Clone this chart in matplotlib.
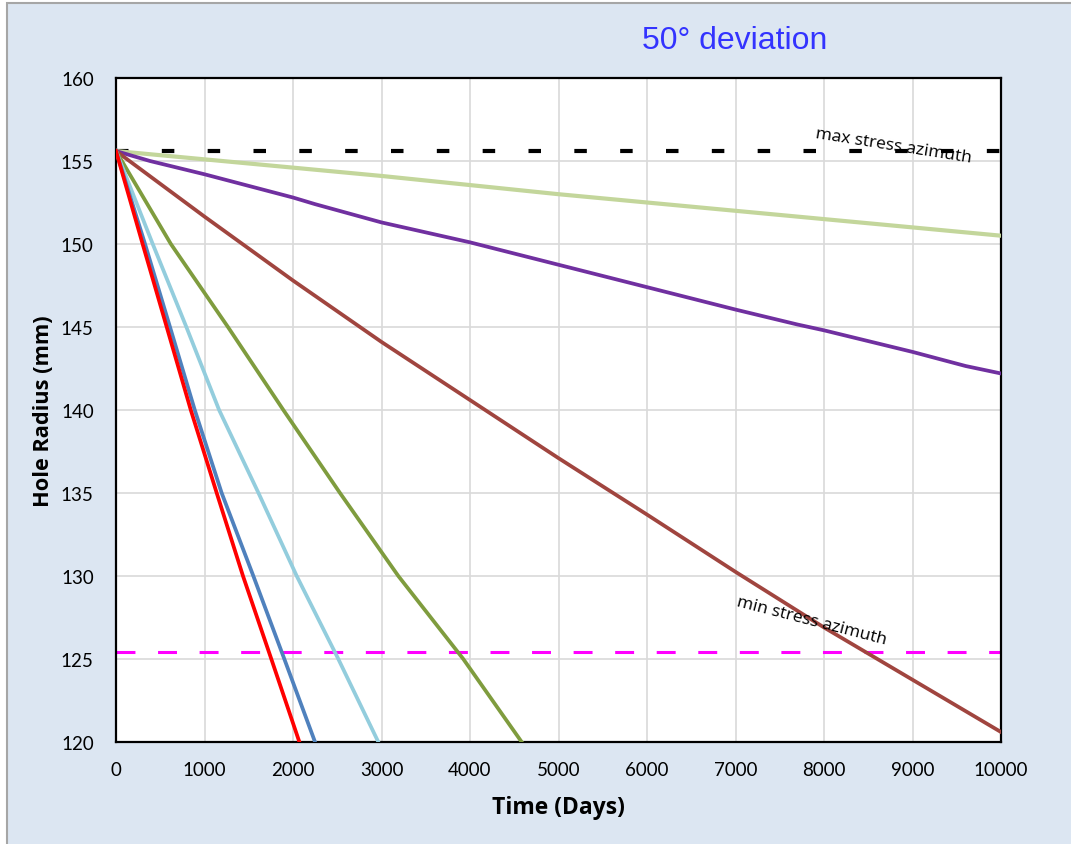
import matplotlib
matplotlib.use("Agg")
import matplotlib.pyplot as plt
from matplotlib.patches import Rectangle

# ---- data ----
red_t = [0, 301, 573, 845, 1138, 1435, 1755, 2072]
red_r = [155.6, 150, 145, 140, 135, 130, 125, 120]

blue_t = [0, 328, 610, 890, 1194, 1552, 1902, 2249]
blue_r = [155.6, 150, 145, 140, 135, 130, 125, 120]

lblue_t = [0, 415, 795, 1165, 1610, 2042, 2512, 2964]
lblue_r = [155.6, 150, 145, 140, 135, 130, 125, 120]

olive_t = [0, 620, 1265, 1891, 2531, 3190, 3924, 4584]
olive_r = [155.6, 150, 145, 140, 135, 130, 125, 120]

brown_t = [0, 1000, 2000, 3000, 4000, 5000, 6000, 7000, 8000, 9000, 10000]
brown_r = [155.6, 151.65, 147.8, 144.1, 140.6, 137.1, 133.7, 130.25, 126.9, 123.75, 120.6]

purple_t = [0, 384, 1000, 2000, 2250, 3000, 4000, 5000, 6000, 7000, 7700, 8000, 9000, 9600, 10000]
purple_r = [155.6, 155.0, 154.2, 152.8, 152.4, 151.3, 150.1, 148.75, 147.4, 146.05, 145.15, 144.8, 143.5, 142.65, 142.2]

lgreen_t = [0, 1000, 2000, 3000, 4000, 5000, 6000, 7000, 8000, 9000, 10000]
lgreen_r = [155.6, 155.1, 154.6, 154.1, 153.55, 153.0, 152.5, 152.0, 151.5, 151.0, 150.5]

max_stress_r = 155.6
min_stress_r = 125.4

x_ticks = [0, 1000, 2000, 3000, 4000, 5000, 6000, 7000, 8000, 9000, 10000]
y_ticks = [120, 125, 130, 135, 140, 145, 150, 155, 160]

title = "50° deviation"
x_label = "Time (Days)"
y_label = "Hole Radius (mm)"

# ---- figure ----
fig = plt.figure(figsize=(10.71, 8.45), dpi=100, facecolor="white")
bg = Rectangle((7 / 1071, -0.01), 1.05, 1 - 4 / 845 + 0.01, transform=fig.transFigure,
               facecolor="#dce6f2", edgecolor="#a6a6a6", linewidth=1.5, zorder=-10)
fig.patches.append(bg)

ax = fig.add_axes([116 / 1071, 1 - 743 / 845, (1001 - 116) / 1071, (743 - 79) / 845])
ax.set_zorder(1)
ax.set_facecolor("white")

lw = 2.7
ax.plot(lgreen_t, lgreen_r, color="#c3d69b", lw=3.0, zorder=3)
ax.plot(purple_t, purple_r, color="#7030a0", lw=lw, zorder=3)
ax.plot(brown_t, brown_r, color="#a0453f", lw=lw, zorder=3)
ax.plot(olive_t, olive_r, color="#7f9c3e", lw=lw, zorder=3)
ax.plot(lblue_t, lblue_r, color="#93cddd", lw=lw, zorder=3)
ax.plot(blue_t, blue_r, color="#4f81bd", lw=lw, zorder=3)
ax.plot(red_t, red_r, color="#ff0000", lw=lw, zorder=3)

ax.plot([0, 10000], [max_stress_r, max_stress_r], color="black", lw=3,
        dashes=(3, 8), zorder=2)
ax.plot([0, 10000], [min_stress_r, min_stress_r], color="#ff00ff", lw=2.2,
        dashes=(6.2, 7.4), zorder=2)

ax.set_xlim(0, 10000)
ax.set_ylim(120, 160)
ax.set_xticks(x_ticks)
ax.set_yticks(y_ticks)
ax.grid(True, color="#d9d9d9", lw=1.2, zorder=1)
ax.set_axisbelow(True)
ax.tick_params(length=0, labelsize=13.5)
ax.tick_params(axis="x", pad=14)
ax.tick_params(axis="y", pad=16)
for lab in ax.get_xticklabels() + ax.get_yticklabels():
    lab.set_fontfamily("Lato")
for s in ax.spines.values():
    s.set_linewidth(1.6)
    s.set_color("black")

ax.set_xlabel(x_label, fontsize=16.5, fontweight="bold", fontfamily="Open Sans")
ax.set_ylabel(y_label, fontsize=15.7, fontweight="bold", fontfamily="Open Sans")
ax.xaxis.set_label_coords(0.5, -(796 - 743) / 664)
ax.yaxis.set_label_coords((54 - 116) / 885, 0.5)

fig.text(735 / 1071, 1 - 41 / 845, title, color="#3333ff", fontsize=23,
         fontfamily="Liberation Sans", ha="center", va="center", zorder=2)

ax.text(8790, 155.95, "max stress azimuth", rotation=-9, fontsize=12.5,
        fontfamily="Open Sans", ha="center", va="center", zorder=4)
ax.text(7865, 127.35, "min stress azimuth", rotation=-14.5, fontsize=12.5,
        fontfamily="Open Sans", ha="center", va="center", zorder=4)

fig.savefig("out.png", dpi=100, facecolor=fig.get_facecolor())
